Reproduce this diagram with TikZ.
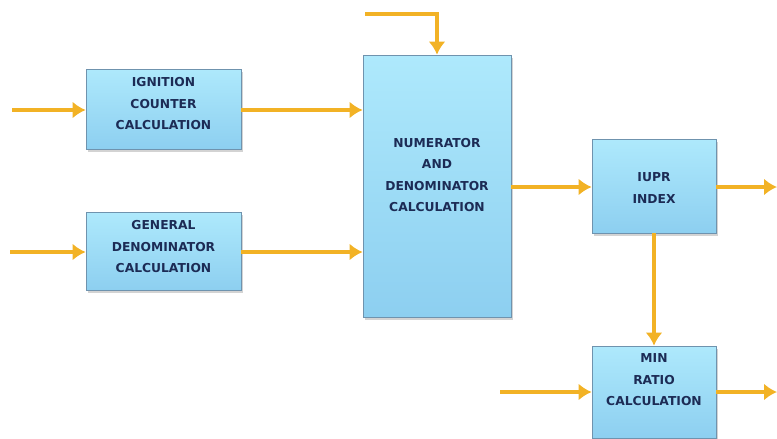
\documentclass[tikz,border=0pt]{standalone}
\usepackage{fontspec}
\setmainfont{DejaVu Sans}
\usetikzlibrary{arrows.meta,shadows}
\definecolor{arr}{HTML}{F2B225}
\definecolor{boxtop}{HTML}{AEE9FC}
\definecolor{boxbot}{HTML}{8DCFF0}
\definecolor{boxline}{HTML}{6F93AE}
\definecolor{txt}{HTML}{1C2B55}
\tikzset{
  blk/.style={draw=boxline, line width=0.8pt, top color=boxtop, bottom color=boxbot,
    drop shadow={shadow xshift=2pt, shadow yshift=-2.5pt, opacity=0.35}, inner sep=0pt},
  lbl/.style={align=center, text=txt, font=\bfseries\fontsize{12.3}{21.5}\selectfont},
  flow/.style={draw=arr, line width=4pt, -{Latex[length=13pt,width=17pt]}}
}
\begin{document}
\begin{tikzpicture}[x=1pt,y=-1pt]
\useasboundingbox (0,0) rectangle (777,439);
% boxes
\node[blk, minimum width=155pt, minimum height=80pt] (ign) at (163.5,109) {};
\node[blk, minimum width=155pt, minimum height=78pt] (gen) at (163.5,251) {};
\node[blk, minimum width=148pt, minimum height=262pt] (num) at (437,186) {};
\node[blk, minimum width=124pt, minimum height=94pt] (iupr) at (654,186) {};
\node[blk, minimum width=124pt, minimum height=92pt] (minr) at (654,392) {};
% texts
\node[lbl] (ignT) at (163.5,104) {IGNITION\\COUNTER\\CALCULATION};
\node[lbl] (genT) at (163.5,247) {GENERAL\\DENOMINATOR\\CALCULATION};
\node[lbl] (numT) at (437,175) {NUMERATOR\\AND\\DENOMINATOR\\CALCULATION};
\node[lbl] (iuprT) at (654,188) {IUPR\\INDEX};
\node[lbl] (minT) at (654,380) {MIN\\RATIO\\CALCULATION};
% free ends
\coordinate (inI) at (12,110);
\coordinate (inG) at (10,252);
\coordinate (inTop) at (365,14);
\coordinate (inM) at (500,392);
\coordinate (outI) at (777,187);
\coordinate (outM) at (777,392);
% connectors
\draw[flow] (inI) -- (inI -| ign.west);
\draw[flow] (inG) -- (inG -| gen.west);
\draw[flow] (ign.east |- inI) -- (num.west |- inI);
\draw[flow] (gen.east |- inG) -- (num.west |- inG);
\draw[flow] (inTop) -- (inTop -| num.north) -- (num.north);
\draw[flow] (num.east |- outI) -- (iupr.west |- outI);
\draw[flow] (iupr.east |- outI) -- (outI);
\draw[flow] (iupr.south) -- (minr.north);
\draw[flow] (inM) -- (inM -| minr.west);
\draw[flow] (minr.east |- outM) -- (outM);
\end{tikzpicture}
\end{document}
